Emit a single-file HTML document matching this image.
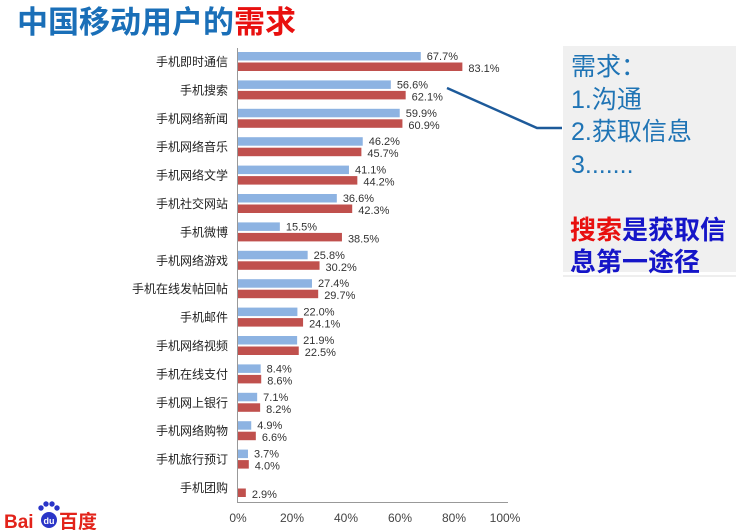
<!DOCTYPE html>
<html><head><meta charset="utf-8"><style>
body{margin:0;background:#fff;}
svg{display:block;}
</style></head><body>
<svg width="736" height="530" xmlns="http://www.w3.org/2000/svg" font-family="Liberation Sans, Noto Sans CJK SC, sans-serif">
<text x="17" y="33" font-size="31" font-weight="bold" fill="#1a6fb8" font-family="Noto Sans CJK SC, sans-serif">中国移动用户的<tspan fill="#e8100f">需求</tspan></text>
<g id="chart"></g>
<line x1="237.5" y1="48" x2="237.5" y2="502" stroke="#999" stroke-width="1"/>
<line x1="237" y1="502.5" x2="508" y2="502.5" stroke="#999" stroke-width="1"/>
<g font-size="12" fill="#444" text-anchor="middle">
<text x="238" y="522">0%</text><text x="292" y="522">20%</text><text x="346" y="522">40%</text><text x="400" y="522">60%</text><text x="454" y="522">80%</text><text x="505" y="522">100%</text>
</g>
<rect x="563" y="46" width="173" height="226" fill="#f0f0f0"/>
<line x1="563" y1="276" x2="736" y2="276" stroke="#ddd"/>
<polyline points="447,88 537,128 562,128" fill="none" stroke="#1d5a9a" stroke-width="2.5"/>
<g font-size="25" fill="#1f74b5" font-family="Liberation Sans, Noto Sans CJK SC, sans-serif">
<text x="571" y="75">需求：</text>
<text x="571" y="108">1.沟通</text>
<text x="571" y="140">2.获取信息</text>
<text x="571" y="173">3.......</text>
</g>
<g font-size="26" font-weight="bold" fill="#1515c8" font-family="Noto Sans CJK SC, sans-serif">
<text x="570" y="239"><tspan fill="#e8100f">搜索</tspan>是获取信</text>
<text x="570" y="271">息第一途径</text>
</g>
<text x="4" y="528" font-size="19" font-weight="bold" fill="#e2231a">Bai</text>
<circle cx="49" cy="520" r="8" fill="#2a35c8"/>
<circle cx="41" cy="508" r="2.7" fill="#2a35c8"/><circle cx="46" cy="504" r="2.7" fill="#2a35c8"/><circle cx="52" cy="504" r="2.7" fill="#2a35c8"/><circle cx="57" cy="508" r="2.7" fill="#2a35c8"/>
<text x="49" y="524" font-size="9" fill="#fff" text-anchor="middle" font-weight="bold">du</text>
<text x="59" y="528" font-size="19" font-weight="bold" fill="#e2231a" font-family="Noto Sans CJK SC, sans-serif">百度</text>
</svg>
<script>
var d=[["手机即时通信",67.7,83.1],["手机搜索",56.6,62.1],["手机网络新闻",59.9,60.9],["手机网络音乐",46.2,45.7],["手机网络文学",41.1,44.2],["手机社交网站",36.6,42.3],["手机微博",15.5,38.5],["手机网络游戏",25.8,30.2],["手机在线发帖回帖",27.4,29.7],["手机邮件",22.0,24.1],["手机网络视频",21.9,22.5],["手机在线支付",8.4,8.6],["手机网上银行",7.1,8.2],["手机网络购物",4.9,6.6],["手机旅行预订",3.7,4.0],["手机团购",null,2.9]];
var s="",k=2.7,x0=238;
d.forEach(function(r,i){var t=52+i*28.4;
s+='<text x="228" y="'+(t+14)+'" font-size="12" fill="#222" text-anchor="end" font-family="Noto Sans CJK SC, sans-serif">'+r[0]+'</text>';
if(r[1]!=null){var w=r[1]*k;s+='<rect x="'+x0+'" y="'+t+'" width="'+w+'" height="8.5" fill="#8db3e2"/><text x="'+(x0+w+6)+'" y="'+(t+8)+'" font-size="11" fill="#333">'+r[1].toFixed(1)+'%</text>';}
var w2=r[2]*k;s+='<rect x="'+x0+'" y="'+(t+10.5)+'" width="'+w2+'" height="8.5" fill="#c0504d"/><text x="'+(x0+w2+6)+'" y="'+(t+20)+'" font-size="11" fill="#333">'+r[2].toFixed(1)+'%</text>';});
document.getElementById("chart").innerHTML=s;
</script>
</body></html>
